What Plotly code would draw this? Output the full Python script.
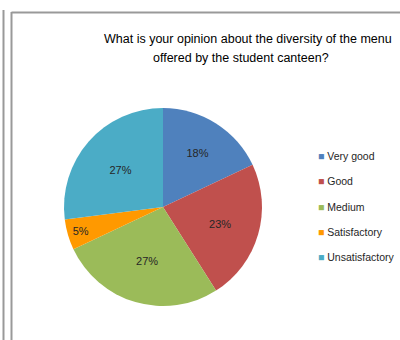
import plotly.graph_objects as go

categories = ["Very good", "Good", "Medium", "Satisfactory", "Unsatisfactory"]
values = [18, 23, 27, 5, 27]
colors = ["#4F81BD", "#C0504D", "#9BBB59", "#FF9900", "#4BACC6"]
title_lines = ["What is your opinion about the diversity of the menu",
               "offered by the student canteen?"]

W, H = 400, 340
FONT = "Liberation Sans"

fig = go.Figure()
fig.add_trace(go.Pie(
    labels=categories,
    values=values,
    sort=False,
    direction="clockwise",
    rotation=0,
    marker=dict(colors=colors, line=dict(width=0)),
    texttemplate="%{percent:.0%}",
    textposition="inside",
    insidetextorientation="horizontal",
    textfont=dict(family=FONT, size=11, color="#262626"),
    showlegend=False,
    hoverinfo="label+percent",
    domain=dict(x=[64 / W, 262 / W], y=[(H - 306) / H, (H - 108) / H]),
))

annotations = []
# title
annotations.append(dict(text=title_lines[0], x=248 / W, y=(H - 39) / H, xref="paper", yref="paper",
                        showarrow=False, xanchor="center", yanchor="middle",
                        font=dict(family=FONT, size=12.5, color="#000000")))
annotations.append(dict(text=title_lines[1], x=241 / W, y=(H - 58) / H, xref="paper", yref="paper",
                        showarrow=False, xanchor="center", yanchor="middle",
                        font=dict(family=FONT, size=12.5, color="#000000")))
# legend
for i, (cat, col) in enumerate(zip(categories, colors)):
    yy = (H - (156 + i * 25.3)) / H
    annotations.append(dict(text=f"<span style='color:{col}'>■</span> {cat}",
                            x=316 / W, y=yy, xref="paper", yref="paper",
                            showarrow=False, xanchor="left", yanchor="middle",
                            font=dict(family=FONT, size=10.5, color="#262626")))

shapes = [
    dict(type="line", xref="paper", yref="paper", x0=3.5 / W, x1=3.5 / W, y0=0, y1=(H - 10) / H,
         line=dict(color="#999999", width=2)),
    dict(type="line", xref="paper", yref="paper", x0=11.5 / W, x1=11.5 / W, y0=0, y1=(H - 12) / H,
         line=dict(color="#999999", width=2)),
    dict(type="line", xref="paper", yref="paper", x0=11.5 / W, x1=1, y0=(H - 12.5) / H, y1=(H - 12.5) / H,
         line=dict(color="#999999", width=2)),
]

fig.update_layout(
    width=W, height=H,
    margin=dict(l=0, r=0, t=0, b=0),
    paper_bgcolor="white",
    plot_bgcolor="white",
    annotations=annotations,
    shapes=shapes,
)

fig.write_html(
    "out.html",
    config={"displayModeBar": False},
    post_script="document.body.style.margin='0';document.body.style.overflow='hidden';",
)
